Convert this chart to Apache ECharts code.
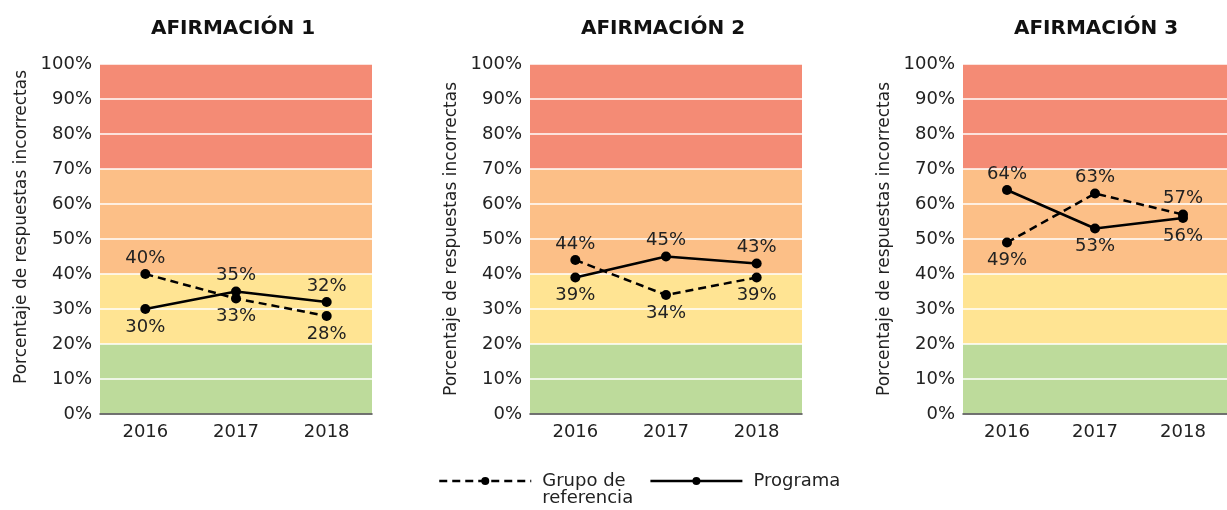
<!DOCTYPE html>
<html><head><meta charset="utf-8">
<script src="https://cdn.jsdelivr.net/npm/echarts@6/dist/echarts.min.js"></script>
<style>html,body{margin:0;padding:0;background:#fff}#c{width:1227px;height:510px}</style>
</head><body><div id="c"></div>
<script>
// ---- data ----
const years = ['2016', '2017', '2018'];
const panelTitles = ['AFIRMACIÓN 1', 'AFIRMACIÓN 2', 'AFIRMACIÓN 3'];
const grupoReferencia1 = [40, 33, 28];
const grupoReferencia2 = [44, 34, 39];
const grupoReferencia3 = [49, 63, 57];
const programa1 = [30, 35, 32];
const programa2 = [39, 45, 43];
const programa3 = [64, 53, 56];
const yMin = 0, yMax = 100, yStep = 10;
const yAxisTitle = 'Porcentaje de respuestas incorrectas';
const seriesNames = ['Grupo de referencia', 'Programa'];

const grupo = [grupoReferencia1, grupoReferencia2, grupoReferencia3];
const prog = [programa1, programa2, programa3];

// ---- style ----
const FONT = 'DejaVu Sans';
const bandColors = ['#BDDB9B', '#BDDB9B', '#FFE493', '#FFE493', '#FCBF87', '#FCBF87', '#FCBF87', '#F48B75', '#F48B75', '#F48B75'];
const gridLefts = [100, 530, 963];
const gridW = 272, gridTop = 64, gridH = 350;

const grids = [], xAxes = [], yAxes = [], series = [], titles = [];
for (let i = 0; i < 3; i++) {
  grids.push({ left: gridLefts[i], top: gridTop, width: gridW, height: gridH, containLabel: false });
  titles.push({
    text: panelTitles[i], left: gridLefts[i] + gridW / 2 - 8, top: 14, textAlign: 'center',
    textStyle: { fontFamily: FONT, fontWeight: 'bold', fontSize: 20, color: '#111' }
  });
  xAxes.push({
    type: 'category', gridIndex: i, data: years, boundaryGap: true,
    axisLine: { lineStyle: { color: '#444', width: 1.5 } },
    axisTick: { alignWithLabel: true, length: 5, lineStyle: { color: '#444' } },
    axisLabel: { fontFamily: FONT, fontSize: 18, color: '#222', margin: 9 }
  });
  yAxes.push({
    type: 'value', gridIndex: i, min: yMin, max: yMax, interval: yStep,
    name: yAxisTitle, nameLocation: 'middle', nameGap: 70, nameRotate: 90,
    nameTextStyle: { fontFamily: FONT, fontSize: 17, color: '#222', padding: i === 0 ? [0, 0, 0, 24] : 0 },
    axisLine: { show: false }, axisTick: { show: false },
    axisLabel: { fontFamily: FONT, fontSize: 18, color: '#222', margin: 8, formatter: v => v + '%' },
    splitLine: { show: true, lineStyle: { color: '#ffffff', width: 1.5 } },
    splitArea: { show: true, areaStyle: { color: bandColors } }
  });
  const g = grupo[i], p = prog[i];
  const mk = (vals, other) => vals.map((v, k) => ({
    value: v, label: { position: v >= other[k] ? 'top' : 'bottom', distance: v >= other[k] ? 2 : 4 }
  }));
  const common = {
    type: 'line', xAxisIndex: i, yAxisIndex: i, symbol: 'circle', symbolSize: 10,
    itemStyle: { color: '#000' }, z: 3,
    label: { show: true, formatter: '{c}%', fontFamily: FONT, fontSize: 18, color: '#222' },
    emphasis: { disabled: true }, animation: false
  };
  series.push(Object.assign({}, common, {
    name: seriesNames[0], data: mk(g, p), lineStyle: { color: '#000', width: 2.5, type: [8, 5] }
  }));
  series.push(Object.assign({}, common, {
    name: seriesNames[1], data: mk(p, g), lineStyle: { color: '#000', width: 2.5, type: 'solid' }
  }));
}

const chart = echarts.init(document.getElementById('c'), null, { renderer: 'canvas' });
chart.setOption({
  animation: false,
  title: titles,
  grid: grids, xAxis: xAxes, yAxis: yAxes, series: series,
  legend: {
    left: 438, top: 455, padding: 0, itemWidth: 92, itemHeight: 10, itemGap: 16,
    data: seriesNames,
    lineStyle: { width: 2.5 },
    formatter: n => n === seriesNames[0] ? ' \nGrupo de\nreferencia' : n,
    textStyle: { fontFamily: FONT, fontSize: 18, color: '#222', lineHeight: 17, padding: [0, 0, 0, 6] }
  }
});
</script></body></html>
